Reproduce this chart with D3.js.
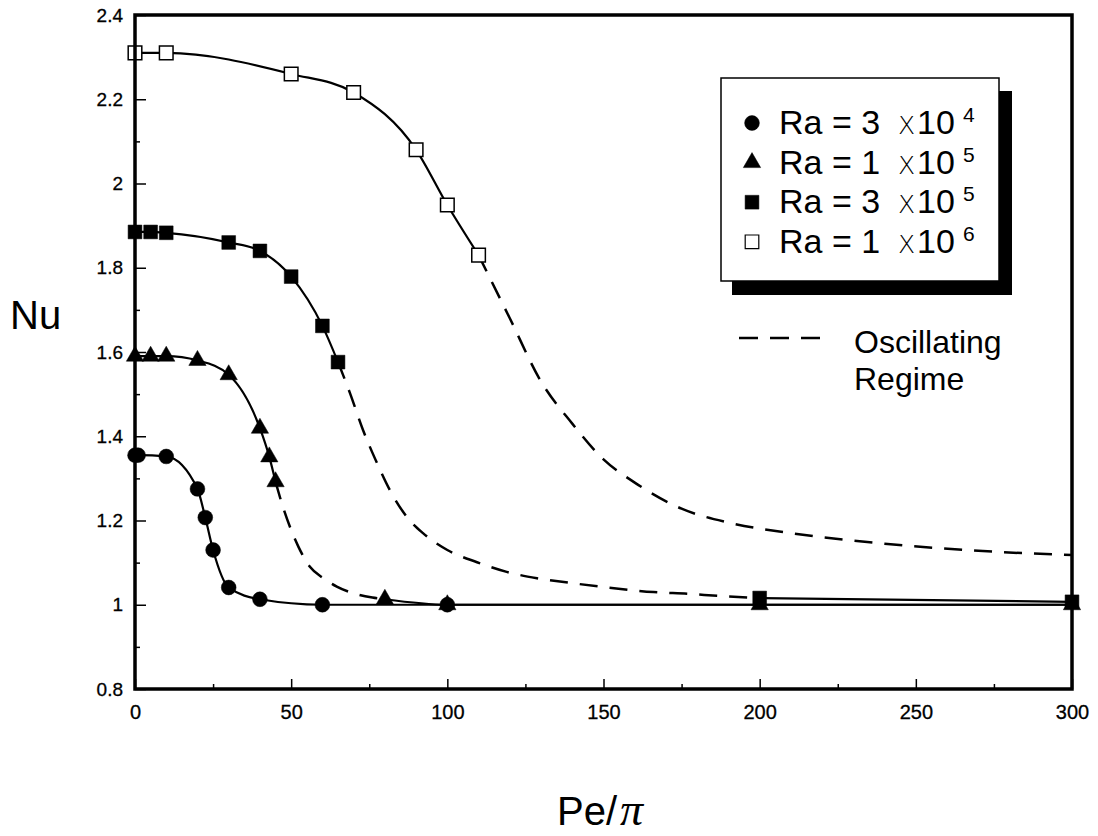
<!DOCTYPE html>
<html>
<head>
<meta charset="utf-8">
<script src="https://cdn.jsdelivr.net/npm/d3@7"></script>
<style>
  body { margin: 0; background: #fff; }
  text { font-family: "Liberation Sans", Arial, Helvetica, sans-serif; fill: #000; }
  .tick line { stroke: #000; stroke-width: 1.5; }
  .tick text { stroke: #000; stroke-width: 0.3; }
</style>
</head>
<body>
<div id="chart"></div>
<script>
const w = 1098;
const h = 836;

// x: Pe/pi, y: Nu
const xMajor = [0, 50, 100, 150, 200, 250, 300];
const xMinor = [25, 75, 125, 175, 225, 275];
const yMajor = [0.8, 1.0, 1.2, 1.4, 1.6, 1.8, 2.0, 2.2, 2.4];
const yMinor = [0.9, 1.1, 1.3, 1.5, 1.7, 1.9, 2.1, 2.3];

// Ra = 3 x 10^4 (filled circles)
const ra3e4 = [[0, 1.355], [1, 1.355], [10, 1.352], [20, 1.275], [22.5, 1.207], [25, 1.13], [30, 1.041], [40, 1.013], [60, 1.0], [100, 1.0]];
const ra3e4Tail = [[100, 1.0], [200, 1.0], [300, 1.0]];

// Ra = 1 x 10^5 (filled triangles)
const ra1e5 = [[0, 1.59], [5, 1.59], [10, 1.59], [20, 1.58], [30, 1.546], [40, 1.419], [43, 1.351], [45, 1.292]];
const ra1e5Osc = [[45, 1.292], [47, 1.241], [49.6, 1.185], [52.3, 1.138], [56, 1.09], [60.3, 1.063], [64.6, 1.043], [70, 1.027], [76, 1.017], [80, 1.013]];
const ra1e5Stable = [[80, 1.013], [100, 1.0], [200, 1.0], [300, 1.0]];

// Ra = 3 x 10^5 (filled squares)
const ra3e5 = [[0, 1.885], [5, 1.885], [10, 1.883], [30, 1.86], [40, 1.84], [50, 1.779], [60, 1.662], [65, 1.576]];
const ra3e5Osc = [[65, 1.576], [68.8, 1.503], [73, 1.415], [77.5, 1.336], [81.6, 1.272], [87.1, 1.208], [92.2, 1.17], [100, 1.13], [109.5, 1.101], [119, 1.078], [128.7, 1.063], [139.3, 1.052], [150, 1.042], [166, 1.03], [177, 1.026], [187, 1.021], [200, 1.016]];
const ra3e5Stable = [[200, 1.016], [300, 1.007]];

// Ra = 1 x 10^6 (open squares)
const ra1e6 = [[0, 2.31], [10, 2.31], [50, 2.26], [70, 2.216], [90, 2.08], [100, 1.949], [110, 1.83]];
const ra1e6Osc = [[110, 1.83], [120, 1.68], [130, 1.53], [140, 1.43], [150, 1.345], [160, 1.29], [175, 1.228], [190, 1.195], [210, 1.17], [240, 1.145], [270, 1.128], [300, 1.118]];

const legendMant = ["3", "1", "3", "1"];
const legendExp = ["4", "5", "5", "6"];
const legendSym = ["circle", "triangle", "square", "open"];

const svg = d3.select("#chart").append("svg")
  .attr("width", w).attr("height", h);

const x = d3.scaleLinear().domain([0, 300]).range([135, 1072]);
const y = d3.scaleLinear().domain([0.8, 2.4]).range([689, 15]);

const fmt = (d) => String(+d.toFixed(1));

// axes, ticks pointing inward
svg.append("g").attr("transform", "translate(135,0)")
  .call(d3.axisLeft(y).tickValues(yMajor).tickFormat(fmt).tickSizeInner(-11).tickSizeOuter(0).tickPadding(12))
  .call((g) => g.select(".domain").remove())
  .selectAll("text").style("font-size", "19px").style("font-family", "Liberation Sans, Arial, sans-serif");
svg.append("g").attr("transform", "translate(135,0)")
  .call(d3.axisLeft(y).tickValues(yMinor).tickFormat("").tickSizeInner(-5).tickSizeOuter(0))
  .call((g) => g.select(".domain").remove());

svg.append("g").attr("transform", "translate(0,689)")
  .call(d3.axisBottom(x).tickValues(xMajor).tickFormat(d3.format("d")).tickSizeInner(-10).tickSizeOuter(0).tickPadding(16))
  .call((g) => g.select(".domain").remove())
  .selectAll("text").style("font-size", "20px").style("font-family", "Liberation Sans, Arial, sans-serif");
svg.append("g").attr("transform", "translate(0,689)")
  .call(d3.axisBottom(x).tickValues(xMinor).tickFormat("").tickSizeInner(-5).tickSizeOuter(0))
  .call((g) => g.select(".domain").remove());

// curves
const line = d3.line().x((d) => x(d[0])).y((d) => y(d[1])).curve(d3.curveMonotoneX);

const solids = [ra3e4, ra3e4Tail, ra1e5, ra1e5Stable, ra3e5, ra3e5Stable, ra1e6];
const dashes = [ra1e5Osc, ra3e5Osc, ra1e6Osc];

svg.append("g").selectAll("path").data(solids).enter().append("path")
  .attr("d", line).attr("fill", "none").attr("stroke", "#000").attr("stroke-width", 2.2);
svg.append("g").selectAll("path").data(dashes).enter().append("path")
  .attr("d", line).attr("fill", "none").attr("stroke", "#000").attr("stroke-width", 2.5)
  .attr("stroke-dasharray", "18,12");

// markers
const symbolPath = {
  circle: d3.symbol().type(d3.symbolCircle).size(172)(),
  triangle: d3.symbol().type(d3.symbolTriangle).size(130)(),
  square: d3.symbol().type(d3.symbolSquare).size(190)(),
  open: d3.symbol().type(d3.symbolSquare).size(185)()
};

function drawMarks(pts, kind) {
  svg.append("g").selectAll("path").data(pts).enter().append("path")
    .attr("transform", (d) => "translate(" + x(d[0]) + "," + y(d[1]) + ")")
    .attr("d", symbolPath[kind])
    .attr("fill", kind === "open" ? "#fff" : "#000")
    .attr("stroke", "#000")
    .attr("stroke-width", kind === "open" ? 1.5 : 0.5);
}
drawMarks(ra3e4, "circle");
drawMarks(ra1e5, "triangle");
drawMarks(ra1e5Stable, "triangle");
drawMarks(ra3e5, "square");
drawMarks(ra3e5Stable, "square");
drawMarks(ra1e6, "open");

// frame
svg.append("rect").attr("x", 135).attr("y", 15).attr("width", 937).attr("height", 674)
  .attr("fill", "none").attr("stroke", "#000").attr("stroke-width", 3.5);

// legend box with drop shadow
const lg = svg.append("g");
lg.append("rect").attr("x", 732).attr("y", 91).attr("width", 280).attr("height", 204).attr("fill", "#000");
lg.append("rect").attr("x", 721).attr("y", 78).attr("width", 278).attr("height", 203)
  .attr("fill", "#fff").attr("stroke", "#000").attr("stroke-width", 1.5);

const rows = lg.selectAll("g.row").data(legendMant).enter().append("g")
  .attr("class", "row")
  .attr("transform", (d, i) => "translate(0," + (134 + i * 39.6) + ")");
rows.append("path")
  .attr("transform", "translate(752,-11)")
  .attr("d", (d, i) => symbolPath[legendSym[i]])
  .attr("fill", (d, i) => legendSym[i] === "open" ? "#fff" : "#000")
  .attr("stroke", "#000").attr("stroke-width", (d, i) => legendSym[i] === "open" ? 1.2 : 0.5);

// one text element per row, pieces placed with tspans
const rowText = rows.append("text").attr("y", 0).style("font-size", "34px");
rowText.append("tspan").attr("x", 779).text((d) => "Ra = " + d);
rowText.append("tspan").attr("x", 898)
  .style("font-size", "25px").style("font-family", "DejaVu Sans").style("font-weight", 200)
  .text("X");
rowText.append("tspan").attr("x", 917).text("10");
rowText.append("tspan").attr("x", 963).attr("dy", -12).style("font-size", "21px").text((d, i) => legendExp[i]);

// oscillating regime note
svg.append("line").attr("x1", 739).attr("x2", 820).attr("y1", 338).attr("y2", 338)
  .attr("stroke", "#000").attr("stroke-width", 2.5).attr("stroke-dasharray", "19,12");
svg.append("text").attr("x", 854).attr("y", 353).style("font-size", "32px").text("Oscillating");
svg.append("text").attr("x", 854).attr("y", 390).style("font-size", "32px").text("Regime");

// axis titles
svg.append("text").attr("x", 10).attr("y", 329).style("font-size", "40px").text("Nu");
const xt = svg.append("text").attr("x", 557).attr("y", 825).style("font-size", "40px");
xt.append("tspan").text("Pe/");
xt.append("tspan").style("font-family", "Liberation Serif, serif").style("font-style", "italic")
  .style("font-size", "46px").attr("dx", 3).text("π");
</script>
</body>
</html>
